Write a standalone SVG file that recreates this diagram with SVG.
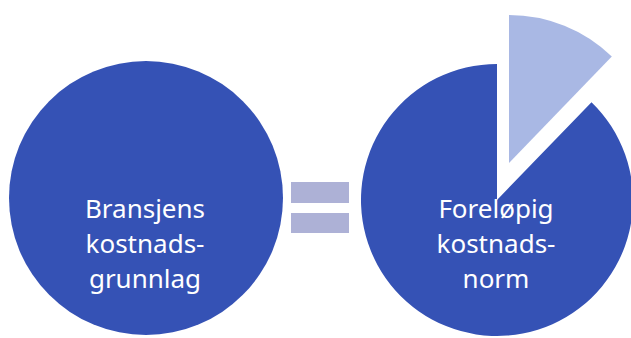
<svg xmlns="http://www.w3.org/2000/svg" width="631" height="338" viewBox="0 0 631 338">
<style>
.dark{fill:#3552b5}
.light{fill:#a9b8e4}
.eq{fill:#adb1d6}
.lbl{fill:#ffffff;font-family:"Noto Sans","Open Sans",sans-serif;font-size:26px;text-anchor:middle}
</style>
<rect width="631" height="338" fill="#ffffff"/>
<g id="left-circle">
<circle class="dark" cx="146" cy="198" r="137"/>
<text class="lbl" x="145" y="218">Bransjens</text>
<text class="lbl" x="145" y="253">kostnads-</text>
<text class="lbl" x="145" y="288">grunnlag</text>
</g>
<g id="equals">
<rect class="eq" x="291" y="182" width="58" height="21"/>
<rect class="eq" x="291" y="213" width="58" height="20"/>
</g>
<g id="right-pie">
<path class="dark" d="M497,200 L591.5,102.2 A136,136 0 1 1 497,64 Z"/>
<path class="light" d="M509,163 L509,15 A148,148 0 0 1 611.8,56.5 Z"/>
<text class="lbl" x="496" y="218">Foreløpig</text>
<text class="lbl" x="496" y="253">kostnads-</text>
<text class="lbl" x="496" y="288">norm</text>
</g>
</svg>
